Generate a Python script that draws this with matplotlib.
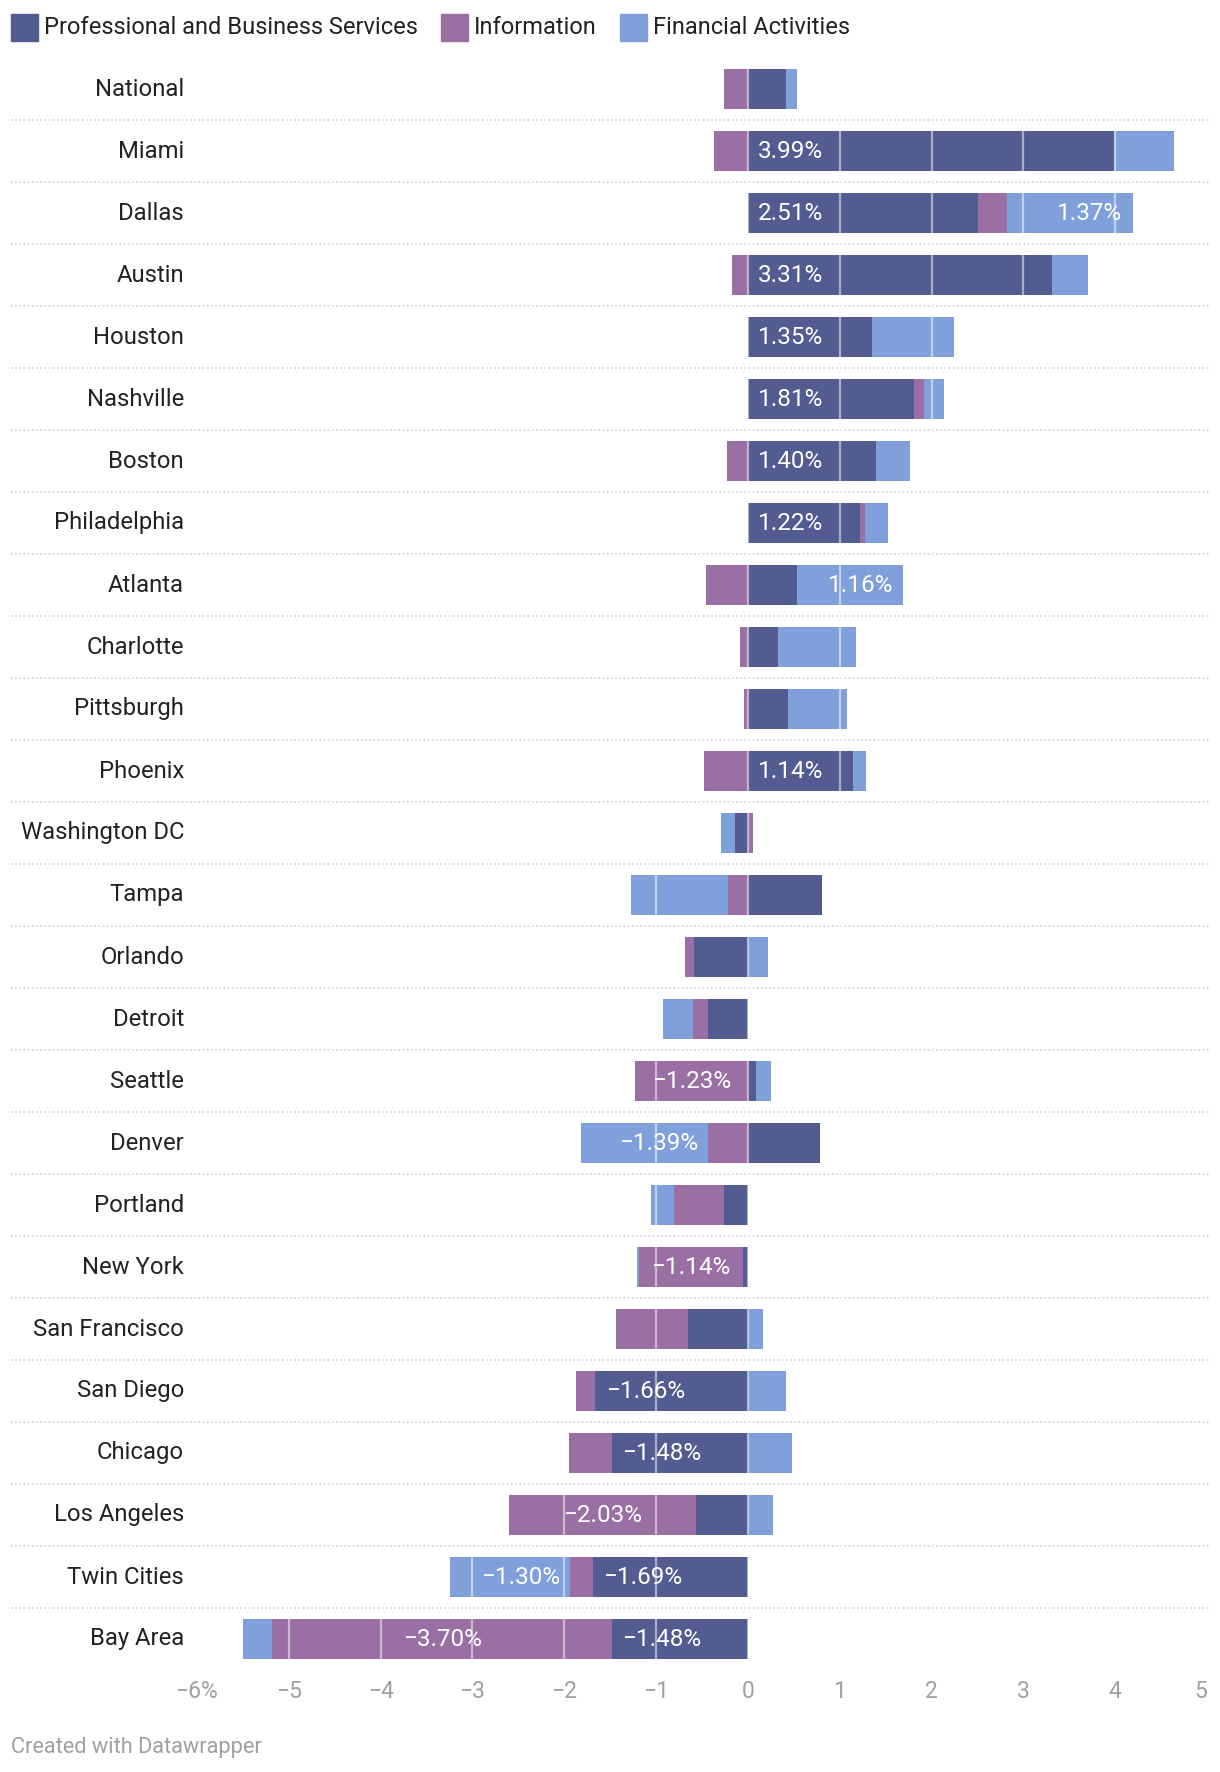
import matplotlib.pyplot as plt
import matplotlib.transforms as mtransforms
from matplotlib.patches import Rectangle

plt.rcParams['font.family'] = ['Roboto', 'DejaVu Sans']

# Data (percent change)
cities = ['National', 'Miami', 'Dallas', 'Austin', 'Houston', 'Nashville', 'Boston',
          'Philadelphia', 'Atlanta', 'Charlotte', 'Pittsburgh', 'Phoenix', 'Washington DC',
          'Tampa', 'Orlando', 'Detroit', 'Seattle', 'Denver', 'Portland', 'New York',
          'San Francisco', 'San Diego', 'Chicago', 'Los Angeles', 'Twin Cities', 'Bay Area']
pbs = [0.42, 3.99, 2.51, 3.31, 1.35, 1.81, 1.40, 1.22, 0.53, 0.33, 0.44, 1.14, -0.14,
       0.81, -0.59, -0.43, 0.09, 0.79, -0.26, -0.05, -0.65, -1.66, -1.48, -0.57, -1.69, -1.48]
info = [-0.26, -0.37, 0.31, -0.17, 0.0, 0.11, -0.23, 0.05, -0.46, -0.09, -0.04, -0.48, 0.05,
        -0.22, -0.09, -0.17, -1.23, -0.43, -0.54, -1.14, -0.79, -0.21, -0.47, -2.03, -0.25, -3.70]
fin = [0.12, 0.65, 1.37, 0.39, 0.89, 0.22, 0.36, 0.26, 1.16, 0.85, 0.64, 0.15, -0.15,
       -1.05, 0.22, -0.32, 0.16, -1.39, -0.26, -0.02, 0.16, 0.42, 0.48, 0.27, -1.30, -0.32]

series_names = ['Professional and Business Services', 'Information', 'Financial Activities']
colors = ['#525c90', '#9a70a4', '#80a0db']
xticks = [-6, -5, -4, -3, -2, -1, 0, 1, 2, 3, 4, 5]

W, H = 1220, 1772
fig = plt.figure(figsize=(W / 100, H / 100), dpi=100)

# axes placement in pixels
ax_l, ax_r = 197, 1207
ax_top, ax_bot = 58, 1670
ax = fig.add_axes([ax_l / W, 1 - ax_bot / H, (ax_r - ax_l) / W, (ax_bot - ax_top) / H])
ax.set_xlim(-6, 5)
n = len(cities)
ax.set_ylim(n - 0.5, -0.5)
for s in ax.spines.values():
    s.set_visible(False)
ax.set_yticks([])

bar_h = 0.645
pad = 0.11
for i in range(n):
    pos, neg = 0.0, 0.0
    for k, vals in enumerate([pbs, info, fin]):
        v = vals[i]
        if v >= 0:
            start = pos
            pos += v
        else:
            start = neg
            neg += v
        ax.barh(i, v, left=start, height=bar_h, color=colors[k], zorder=2, linewidth=0)
        if abs(v) >= 1.1:
            lo, hi = min(start, start + v), max(start, start + v)
            lab = f'{v:.2f}%'.replace('-', '\u2212')
            if k == 0:
                x, ha = lo + pad, 'left'
            elif k == 1:
                x, ha = (lo + hi) / 2, 'center'
            else:
                x, ha = hi - pad, 'right'
            ax.text(x, i, lab, ha=ha, va='center', color='white', fontsize=17.5, zorder=4)

# gridlines drawn over the bars
for t in xticks[1:]:
    ax.axvline(t, color='white', alpha=0.5, lw=1.6, zorder=3)

# dotted row separators across the full width
trans = mtransforms.blended_transform_factory(fig.transFigure, ax.transData)
for i in range(n - 1):
    ax.plot([11 / W, 1209 / W], [i + 0.5, i + 0.5], transform=trans, clip_on=False,
            color='#cfcfcf', lw=1.2, ls=(0, (1, 1.5)), zorder=1)

# city labels
for i, c in enumerate(cities):
    ax.text(184 / W, i, c, transform=trans, ha='right', va='center',
            fontsize=17.2, color='#222222')

# x tick labels
ax.set_xticks(xticks)
labels = [('\u2212' + str(-t) if t < 0 else str(t)) for t in xticks]
labels[0] = labels[0] + '%'
ax.set_xticklabels(labels, fontsize=16.5, color='#a0a0a0')
ax.tick_params(axis='x', length=0, pad=7)
tl = ax.get_xticklabels()
tl[-1].set_ha('right')

# legend
lx = 11
for name, col in zip(series_names, colors):
    fig.patches.append(Rectangle((lx / W, 1 - 41 / H), 27 / W, 27 / H,
                                 transform=fig.transFigure, color=col))
    t = fig.text((lx + 33) / W, 1 - 27 / H, name, ha='left', va='center',
                 fontsize=17, color='#222222')
    fig.canvas.draw()
    bb = t.get_window_extent()
    lx = bb.x1 + 23

fig.text(11 / W, 1 - 1747 / H, 'Created with Datawrapper', ha='left', va='center',
         fontsize=15.7, color='#a0a0a0')

fig.savefig('out.png', dpi=100, facecolor='white')
